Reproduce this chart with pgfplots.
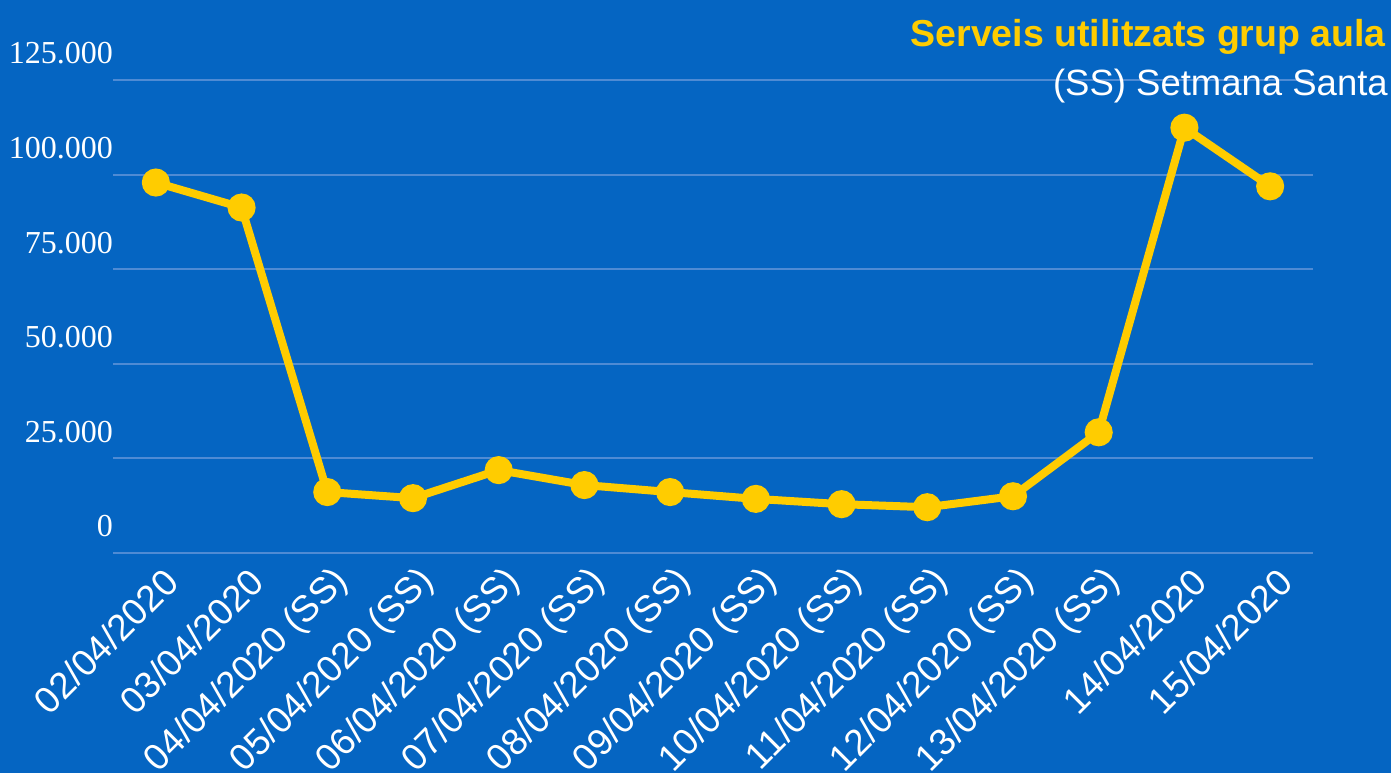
\documentclass[border=0pt]{standalone}
\usepackage{pgfplots}
\pgfplotsset{compat=1.18}
\usepackage{fontspec}
\setmainfont{Liberation Sans}
\newfontfamily\yfont{Liberation Serif}
\definecolor{bg}{HTML}{0565C2}
\definecolor{gridc}{HTML}{4F8BD4}
\definecolor{gold}{HTML}{FFCC00}
\begin{document}
\begin{tikzpicture}[x=1pt,y=1pt]
\useasboundingbox (0,0) rectangle (1391,773);
\fill[bg] (0,0) rectangle (1391,773);
\begin{scope}
\clip (0,0) rectangle (1391,773);
\begin{axis}[
  at={(113pt,220pt)}, anchor=south west,
  scale only axis, width=1200pt, height=473pt,
  xmin=-0.5, xmax=13.5, ymin=0, ymax=125000,
  axis line style={draw=none},
  major tick style={draw=none},
  ymajorgrids, grid style={gridc, line width=2pt},
  ytick={0,25000,50000,75000,100000,125000},
  scaled y ticks=false,
  /pgf/number format/.cd, fixed, 1000 sep={.}, assume math mode=true,
  /pgfplots/.cd,
  yticklabel style={font=\yfont\fontsize{32}{32}\selectfont, text=white, anchor=base east, inner sep=0pt, yshift=16pt},
  xtick={0,...,13},
  xticklabels={02/04/2020,03/04/2020,04/04/2020 (SS),05/04/2020 (SS),06/04/2020 (SS),07/04/2020 (SS),08/04/2020 (SS),09/04/2020 (SS),10/04/2020 (SS),11/04/2020 (SS),12/04/2020 (SS),13/04/2020 (SS),14/04/2020,15/04/2020},
  xticklabel style={font=\fontsize{37}{37}\selectfont, text=white, rotate=45, anchor=east, inner sep=0pt, xshift=-5pt, yshift=-27pt},
  clip=false,
]
\addplot[gold, line width=8pt, mark=*, mark size=10pt, mark options={draw=none, fill=gold}] coordinates {
(0,97900) (1,91300) (2,16100) (3,14500) (4,21900) (5,17950) (6,16100) (7,14300) (8,12900) (9,12100) (10,15000) (11,31900) (12,112400) (13,96900)
};
\end{axis}
\end{scope}
\node[anchor=base east, text=gold, font=\bfseries\fontsize{37.5}{37.5}\selectfont, inner sep=0pt] at (1386,726) {Serveis utilitzats grup aula};
\node[anchor=base east, text=white, font=\fontsize{36.5}{36.5}\selectfont, inner sep=0pt] at (1388,677) {(SS) Setmana Santa};
\end{tikzpicture}
\end{document}
